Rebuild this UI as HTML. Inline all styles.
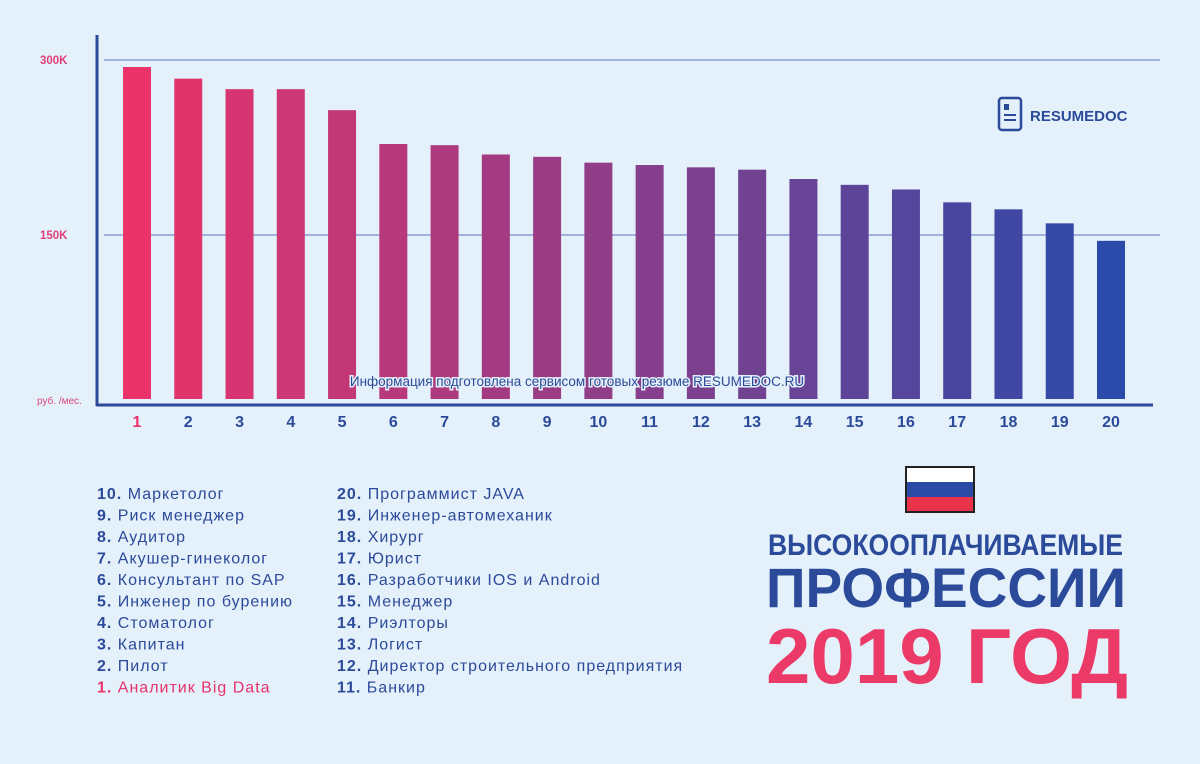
<!DOCTYPE html>
<html><head><meta charset="utf-8"><style>
body{margin:0;background:#e4f0fa;}
svg{display:block;font-family:"Liberation Sans","DejaVu Sans",sans-serif;}
</style></head><body>
<svg id="c" width="1200" height="764" viewBox="0 0 1200 764">
<rect width="1200" height="764" fill="#e4f0fa"/>
<g id="grid"></g>
<g id="bars"></g>
<line x1="97" y1="35" x2="97" y2="406" stroke="#2c4a9a" stroke-width="3"/>
<line x1="96" y1="405" x2="1153" y2="405" stroke="#2c4a9a" stroke-width="3"/>
<text x="37" y="404" font-size="10" fill="#d94878">руб. /мес.</text>
<text x="577" y="386" font-size="13.5" fill="#2c4a9a" text-anchor="middle" stroke="#e4f0fa" stroke-width="3" paint-order="stroke">Информация подготовлена сервисом готовых резюме RESUMEDOC.RU</text>
<g>
<rect x="999" y="98" width="22" height="32" rx="3" fill="none" stroke="#2c4a9a" stroke-width="2.5"/>
<rect x="1004" y="104" width="5" height="6" fill="#2c4a9a"/>
<line x1="1004" y1="115" x2="1016" y2="115" stroke="#2c4a9a" stroke-width="2"/>
<line x1="1004" y1="120" x2="1016" y2="120" stroke="#2c4a9a" stroke-width="2"/>
<text x="1030" y="121" font-size="15" font-weight="bold" fill="#2c4a9a">RESUMEDOC</text>
</g>
<g>
<rect x="905" y="466" width="70" height="47" fill="#222"/>
<rect x="907" y="468" width="66" height="14" fill="#fff"/>
<rect x="907" y="482" width="66" height="15" fill="#2b4aa6"/>
<rect x="907" y="497" width="66" height="14" fill="#e8334a"/>
</g>
<text x="768" y="555" font-size="30" font-weight="bold" fill="#2c4a9a" textLength="355" lengthAdjust="spacingAndGlyphs">ВЫСОКООПЛАЧИВАЕМЫЕ</text>
<text x="766" y="607" font-size="56" font-weight="bold" fill="#2c4a9a" textLength="360" lengthAdjust="spacingAndGlyphs">ПРОФЕССИИ</text>
<text x="766" y="683" font-size="78" font-weight="bold" fill="#ec3a68" textLength="362" lengthAdjust="spacingAndGlyphs">2019 ГОД</text>
<g id="legend"></g>
</svg>
<script>
const categories=["1","2","3","4","5","6","7","8","9","10","11","12","13","14","15","16","17","18","19","20"];
const salaries=[294,284,275,275,257,228,227,219,217,212,210,208,206,198,193,189,178,172,160,145];
const tickValues=[150,300];
const tickLabels=["150K","300K"];
const leftList=["10. Маркетолог","9. Риск менеджер","8. Аудитор","7. Акушер-гинеколог","6. Консультант по SAP","5. Инженер по бурению","4. Стоматолог","3. Капитан","2. Пилот","1. Аналитик Big Data"];
const rightList=["20. Программист JAVA","19. Инженер-автомеханик","18. Хирург","17. Юрист","16. Разработчики IOS и Android","15. Менеджер","14. Риэлторы","13. Логист","12. Директор строительного предприятия","11. Банкир"];
const NS="http://www.w3.org/2000/svg";
function y(v){return 410-v*175/150;}
function xc(i){return 137+i*(1111-137)/19;}
function mk(t,a,p){const e=document.createElementNS(NS,t);for(const k in a)e.setAttribute(k,a[k]);p.appendChild(e);return e;}
function lerp(a,b,t){return Math.round(a+(b-a)*t);}
const grid=document.getElementById('grid');
tickValues.forEach((v,i)=>{
 const l=mk('line',{x1:104,x2:1160,y1:y(v),y2:y(v),stroke:'#5a74c0','stroke-width':1},grid);
 
 
 const t=mk('text',{x:40,y:y(v)+4,'font-size':11.5,'font-weight':'bold',fill:'#e0407a'},grid);
 t.textContent=tickLabels[i];
 
 
});
const bars=document.getElementById('bars');
salaries.forEach((v,i)=>{
 const f=i/19;
 const col=`rgb(${lerp(234,44,f)},${lerp(51,74,f)},${lerp(106,170,f)})`;
 const r=mk('rect',{x:xc(i)-14,y:y(v),width:28,height:399-y(v),fill:col},bars);
 
 
 const t=mk('text',{x:xc(i),y:427,'font-size':16,'font-weight':'bold','text-anchor':'middle',fill:i==0?'#e8336b':'#2c4a9a'},bars);
 t.textContent=categories[i];
 
 
});
const lg=document.getElementById('legend');
function list(arr,x){arr.forEach((s,i)=>{
 const red=s.startsWith('1. ');
 const t=mk('text',{x:x,y:499+i*21.5,'font-size':16,'letter-spacing':1,fill:red?'#e8336b':'#2c4a9a'},lg);
 const dot=s.indexOf('. ');
 const b=mk('tspan',{'font-weight':'bold'},t);b.textContent=s.slice(0,dot+1);
 const r=mk('tspan',{},t);r.textContent=s.slice(dot+1);
 
 
});}
list(leftList,97);list(rightList,337);
</script>
</body></html>
